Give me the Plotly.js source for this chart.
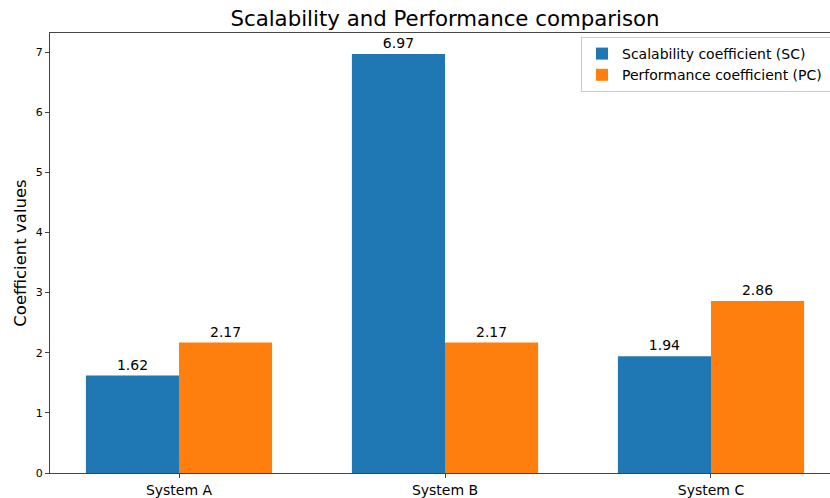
<!DOCTYPE html>
<html>
<head>
<meta charset="utf-8">
<script src="https://cdn.plot.ly/plotly-3.0.1.min.js"></script>
<style>
html, body { margin: 0; padding: 0; overflow: hidden; background: #fff; }
#chart { width: 900px; height: 498px; }
</style>
</head>
<body>
<div id="chart"></div>
<script>
const systems = ["System A", "System B", "System C"];
const scValues = [1.62, 6.97, 1.94];
const pcValues = [2.17, 2.17, 2.86];
const seriesNames = ["Scalability coefficient (SC)", "Performance coefficient (PC)"];
const yTicks = [0, 1, 2, 3, 4, 5, 6, 7];

const FONT = "DejaVu Sans, Liberation Sans, sans-serif";
// trailing non-breaking spaces widen the legend box so it runs off the right edge, as in the reference
const PAD = "\u00a0\u00a0\u00a0";

const traces = [
  {
    type: "bar", name: seriesNames[0] + PAD, x: systems, y: scValues,
    marker: { color: "#1f77b4", line: { width: 0 } },
    texttemplate: "%{y:.2f}", textposition: "outside",
    textfont: { family: FONT, size: 14, color: "#000" },
    cliponaxis: false, hoverinfo: "none"
  },
  {
    type: "bar", name: seriesNames[1] + PAD, x: systems, y: pcValues,
    marker: { color: "#ff7f0e", line: { width: 0 } },
    texttemplate: "%{y:.2f}", textposition: "outside",
    textfont: { family: FONT, size: 14, color: "#000" },
    cliponaxis: false, hoverinfo: "none"
  }
];

const layout = {
  width: 900, height: 498,
  margin: { l: 50, r: 60, t: 33, b: 25, pad: 0 },
  paper_bgcolor: "#fff", plot_bgcolor: "#fff",
  font: { family: FONT, color: "#000" },
  barmode: "group", bargap: 0.3, bargroupgap: 0,
  showlegend: true,
  title: {
    text: "Scalability and Performance comparison",
    font: { family: FONT, size: 21.3, color: "#000" },
    xref: "paper", x: 0.5, xanchor: "center",
    yref: "container", y: 1 - 19 / 498, yanchor: "middle"
  },
  xaxis: {
    type: "category", range: [-0.485, 2.485], automargin: false,
    showline: true, linecolor: "#444", linewidth: 1, mirror: true,
    ticks: "outside", ticklen: 4, tickcolor: "#444", tickwidth: 1,
    tickfont: { family: FONT, size: 14, color: "#000" },
    showgrid: false, zeroline: false
  },
  yaxis: {
    range: [0, 7.3185], automargin: false,
    tickvals: yTicks, ticktext: yTicks.map(String),
    showline: true, linecolor: "#444", linewidth: 1, mirror: true,
    ticks: "outside", ticklen: 4, tickcolor: "#444", tickwidth: 1,
    tickfont: { family: FONT, size: 11, color: "#000" },
    showgrid: false, zeroline: false,
    title: { text: "Coefficient values", font: { family: FONT, size: 16.5, color: "#000" }, standoff: 5 }
  },
  legend: {
    x: (581 - 50) / 790, xanchor: "left",
    y: (473 - 37) / 440, yanchor: "top",
    bgcolor: "rgba(255,255,255,0.8)", bordercolor: "#cccccc", borderwidth: 1,
    font: { family: FONT, size: 14, color: "#000" },
    traceorder: "normal"
  }
};

Plotly.newPlot("chart", traces, layout, { displayModeBar: false, staticPlot: true });
</script>
</body>
</html>
